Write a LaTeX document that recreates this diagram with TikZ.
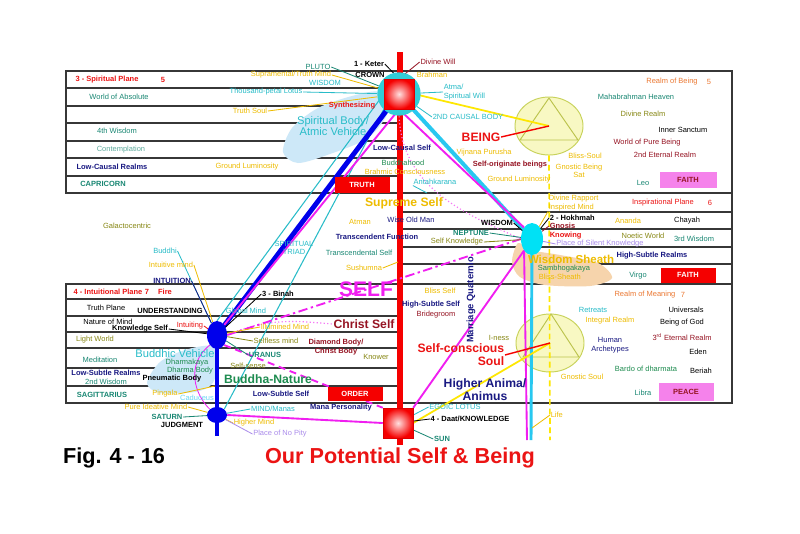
\documentclass[tikz,border=0pt]{standalone}
\usepackage{fontspec}
\setmainfont{Liberation Sans}
\usepackage{xcolor}
\usepackage{tikz}
\usetikzlibrary{shapes.geometric}
\definecolor{ylwtx}{RGB}{238,188,0}
\definecolor{tealtx}{RGB}{25,135,115}
\definecolor{cyantx}{RGB}{40,188,200}
\definecolor{navytx}{RGB}{25,25,130}
\definecolor{dredtx}{RGB}{150,20,35}
\definecolor{redtx}{RGB}{235,20,20}
\definecolor{olivetx}{RGB}{135,135,20}
\definecolor{orangetx}{RGB}{235,120,50}
\definecolor{lavtx}{RGB}{170,140,235}
\definecolor{greentx}{RGB}{30,140,80}
\definecolor{magline}{RGB}{240,30,240}
\definecolor{pinkbox}{RGB}{245,130,235}
\definecolor{boxred}{RGB}{245,0,0}
\definecolor{blobblue}{RGB}{205,232,248}
\definecolor{peach}{RGB}{246,212,172}
\definecolor{circfill}{RGB}{248,248,195}
\definecolor{circedge}{RGB}{200,210,90}
\definecolor{skyline}{RGB}{40,200,240}
\definecolor{ringcyan}{RGB}{50,205,215}
\definecolor{hokcyan}{RGB}{0,225,245}
\definecolor{ellblue}{RGB}{0,0,235}
\definecolor{rulegray}{RGB}{55,55,55}
\pgfdeclarelayer{back}
\pgfdeclarelayer{wires}
\pgfsetlayers{back,wires,main}

\begin{document}
\begin{tikzpicture}[x=0.3mm, y=-0.3mm,
    lab/.style={font=\fontsize{6.4}{7.2}\selectfont, inner sep=0.5pt},
    labb/.style={font=\fontsize{6.4}{7.2}\selectfont\bfseries, inner sep=0.5pt},
    big/.style={font=\fontsize{10.4}{11.2}\selectfont\bfseries, inner sep=0.5pt},
    veh/.style={font=\fontsize{9.5}{9.8}\selectfont, inner sep=0.5pt},
    figtitle/.style={font=\fontsize{18.5}{20}\selectfont\bfseries, inner sep=0pt},
    rowline/.style={line width=1.3pt, rulegray},
    soulcirc/.style={ellipse, fill=circfill, draw=circedge, line width=0.8pt, minimum width=20.4mm, minimum height=17.4mm, inner sep=0pt},
    tri/.style={draw=circedge!80!olivetx, line width=0.8pt},
    ring/.style={circle, fill=ringcyan, minimum size=13mm, inner sep=0pt},
    sq/.style={rectangle, minimum size=9mm, inner sep=0pt, inner color=red!12, outer color=boxred, draw=red!85!black, line width=0.4pt},
    hok/.style={ellipse, fill=hokcyan, minimum width=6.6mm, minimum height=9.6mm, inner sep=0pt},
    blueell/.style={ellipse, fill=ellblue, inner sep=0pt, minimum width=6mm},
    tagbox/.style={rectangle, inner sep=0pt, minimum width=16.5mm, minimum height=4.6mm, font=\fontsize{6.4}{7}\selectfont\bfseries},
    axisline/.style={line width=4.3pt, boxred},
    bluebar/.style={line width=4.2pt, ellblue},
    bluestem/.style={line width=2.8pt, ellblue},
    cyanbar/.style={line width=3.4pt, skyline},
    magbar/.style={line width=1.6pt, magline},
    cyanwire/.style={line width=0.9pt, cyantx},
    lead/.style={line width=0.7pt},
    yelbar/.style={line width=1.5pt, yellow!90!orange},
    yeldash/.style={line width=1.4pt, yellow!90!orange, dash pattern=on 5pt off 3pt},
    redwire/.style={line width=1.2pt, boxred},
    pinkdot/.style={line width=1pt, magline!60, dash pattern=on 1pt off 2pt},
    dashdot/.style={dash pattern=on 8pt off 3pt on 2pt off 3pt},
    dashmag/.style={dash pattern=on 6pt off 4pt}]
    \useasboundingbox (0,0) rectangle (800,533);

    \begin{pgfonlayer}{back}
    \fill[white] (0,0) rectangle (800,533);
    % planes
    \draw[rowline] (66,71) rectangle (732,193);
    \foreach \y in {88,106,123,141,158,176}
        \draw[rowline] (66,\y) -- (400,\y);
    \draw[rowline] (400,193) -- (732,193) -- (732,283);
    \foreach \y in {212,229,247,264}
        \draw[rowline] (400,\y) -- (732,\y);
    \draw[rowline] (66,284) rectangle (732,403);
    \foreach \y in {299,316,332,348,368,386}
        \draw[rowline] (66,\y) -- (400,\y);
    % vehicles
    \fill[blobblue] plot[smooth cycle] coordinates {(283,152) (292,128) (318,108) (352,96) (380,92) (388,112) (368,138) (330,154) (298,163)};
    \fill[blobblue] plot[smooth cycle] coordinates {(147,383) (160,362) (185,350) (212,346) (219,362) (212,384) (195,392) (160,393)};
    \fill[peach] plot[smooth cycle] coordinates {(512,262) (518,243) (530,250) (560,255) (598,263) (612,278) (590,286) (545,285) (520,277)};
    % souls
    \node[soulcirc] (tribeing) at (549,126) {};
    \draw[tri] (549,98) -- (520,140) -- (578,140) -- cycle;
    \node[soulcirc] (trisoul) at (550,343) {};
    \draw[tri] (551,314) -- (523,357) -- (579,357) -- cycle;
    \end{pgfonlayer}

    % sephiroth
    \node[ring] (crownring) at (399,94) {};
    \node[sq] (keter) at (399,94) {};
    \node[sq] (daat) at (398,423) {};
    \node[hok] (hokhmah) at (532,239) {};
    \node[blueell, minimum height=8.4mm] (binah) at (217,335) {};
    \node[blueell, minimum height=4.8mm] (judg) at (217,415) {};
    \coordinate (axtop) at (400,52);
    \coordinate (axbot) at (400,445);
    \coordinate (bluebot) at (217,436);
    \coordinate (hokbot) at (531,440);
    \coordinate (magbot) at (527,440);
    \coordinate (yelbot) at (550,440);

    % boxes
    \node[tagbox, fill=boxred, text=white, minimum height=4.8mm] (truth) at (362,185) {TRUTH};
    \node[tagbox, fill=pinkbox, text=dredtx, minimum width=17.1mm, minimum height=4.8mm] (faithup) at (688,180) {FAITH};
    \node[tagbox, fill=boxred, text=white, minimum height=4.5mm] (faithmid) at (688,275) {FAITH};
    \node[tagbox, fill=boxred, text=white, minimum height=4.2mm] (order) at (355,394) {ORDER};
    \node[tagbox, fill=pinkbox, text=dredtx, minimum height=5.4mm] (peace) at (686,392) {PEACE};

    % spiritual plane
    \node[labb, text=redtx] (spplane) at (107,80) {3 - Spiritual Plane};
    \node[labb, text=redtx] (spnum) at (163,80) {5};
    \node[lab, text=tealtx] (absolute) at (119,97) {World of Absolute};
    \node[lab, text=tealtx] (wisdom4) at (117,131) {4th Wisdom};
    \node[lab, text=tealtx!70] (contempl) at (121,150) {Contemplation};
    \node[labb, text=navytx] (lowcausal) at (112,167) {Low-Causal Realms};
    \node[labb, text=tealtx] (capricorn) at (103,184) {CAPRICORN};
    \node[lab, text=ylwtx] (supmind) at (291,75) {Supramental/Truth Mind};
    \node[lab, text=cyantx] (lotus) at (266,92) {Thousand-petal Lotus};
    \node[lab, text=ylwtx] (truthsoul) at (250,111) {Truth Soul};
    \node[lab, text=ylwtx] (groundl) at (247,167) {Ground Luminosity};
    \node[lab, text=tealtx] (pluto) at (318,67) {PLUTO};
    \node[lab, text=cyantx] (wisdomc) at (325,83) {WISDOM};
    \node[labb] (crownlbl) at (370,75) {CROWN};
    \node[labb] (keterlbl) at (369,64) {1 - Keter};
    \node[lab, text=dredtx] (divwill) at (438,62) {Divine Will};
    \node[lab, text=ylwtx] (brahman) at (432,75) {Brahman};
    \node[lab, text=cyantx, align=left, anchor=west] (atma) at (443,92) {Atma/\\Spiritual Will};
    \node[labb, text=redtx] (synth) at (352,106) {Synthesizing};
    \node[veh, text=cyantx, align=center] (atmic) at (333,126) {Spiritual Body/\\Atmic Vehicle};
    \node[lab, text=cyantx] (causal) at (468,117) {2ND CAUSAL BODY};
    \node[big, text=redtx] (being) at (481,137) {BEING};
    \node[labb, text=navytx] (lcself) at (402,148) {Low-Causal Self};
    \node[lab, text=greentx] (buddhahood) at (403,163) {Buddhahood};
    \node[lab, text=ylwtx] (brahmic) at (405,172) {Brahmic Consciousness};
    \node[lab, text=cyantx] (antah) at (435,182) {Antahkarana};
    \node[lab, text=ylwtx] (vijnana) at (484,153) {Vijnana Purusha};
    \node[labb, text=dredtx] (selforig) at (510,165) {Self-originate beings};
    \node[lab, text=ylwtx] (groundr) at (519,180) {Ground Luminosity};
    \node[lab, text=ylwtx] (blisssoul) at (585,156) {Bliss-Soul};
    \node[lab, text=ylwtx, align=center] (gnbeing) at (579,171) {Gnostic Being\\Sat};
    \node[lab, text=orangetx] (realmbeing) at (672,82) {Realm of Being};
    \node[lab, text=orangetx] (rbnum) at (709,82) {5};
    \node[lab, text=tealtx] (mahab) at (636,97) {Mahabrahman Heaven};
    \node[lab, text=olivetx] (divrealm) at (643,114) {Divine Realm};
    \node[lab] (sanctum) at (683,130) {Inner Sanctum};
    \node[lab, text=dredtx] (purebeing) at (647,143) {World of Pure Being};
    \node[lab, text=dredtx] (eternal2) at (665,155) {2nd Eternal Realm};
    \node[lab, text=tealtx] (leo) at (643,183) {Leo};

    % inspirational plane
    \node[lab, text=olivetx] (galacto) at (127,226) {Galactocentric};
    \node[lab, text=cyantx] (buddhi) at (165,251) {Buddhi};
    \node[lab, text=ylwtx] (intumind) at (171,265) {Intuitive mind};
    \node[labb, text=navytx] (intuition) at (172,281) {INTUITION};
    \node[lab, text=cyantx, align=center] (triad) at (294,248) {SPIRITUAL\\TRIAD};
    \node[big, text=ylwtx] (supreme) at (404,203) {Supreme Self};
    \node[lab, text=ylwtx] (atman) at (360,222) {Atman};
    \node[lab, text=navytx] (oldman) at (411,220) {Wise Old Man};
    \node[labb] (wisdomr) at (497,223) {WISDOM};
    \node[labb, text=navytx] (transfn) at (377,237) {Transcendent Function};
    \node[labb, text=tealtx] (neptune) at (471,233) {NEPTUNE};
    \node[lab, text=olivetx] (selfknow) at (457,242) {Self Knowledge};
    \node[lab, text=tealtx] (transself) at (359,253) {Transcendental Self};
    \node[lab, text=ylwtx] (sush) at (364,268) {Sushumna};
    \node[lab, text=ylwtx, align=left, anchor=west] (rapport) at (548,203) {Divine Rapport\\Inspired Mind};
    \node[lab, text=redtx] (inspplane) at (663,203) {Inspirational Plane};
    \node[lab, text=redtx] (ipnum) at (710,203) {6};
    \node[labb, anchor=west] (hoklbl) at (549,218) {2 - Hokhmah};
    \node[labb, text=dredtx, anchor=west] (gnosis) at (549,226) {Gnosis};
    \node[labb, text=redtx, anchor=west] (knowing) at (549,236) {Knowing};
    \node[lab, text=lavtx] (silent) at (600,244) {Place of Silent Knowledge};
    \node[lab, text=ylwtx] (ananda) at (628,221) {Ananda};
    \node[lab] (chayah) at (687,221) {Chayah};
    \node[lab, text=olivetx] (noetic) at (643,236) {Noetic World};
    \node[lab, text=tealtx] (wisdom3) at (694,239) {3rd Wisdom};
    \node[labb, text=navytx] (hsrealms) at (652,256) {High-Subtle Realms};
    \node[veh, font=\fontsize{9.8}{10}\selectfont\bfseries, text=ylwtx] (sheath) at (571,259) {Wisdom Sheath};
    \node[lab, text=greentx] (sambhoga) at (564,269) {Sambhogakaya};
    \node[lab, text=ylwtx, anchor=west] (blissheath) at (538,277) {Bliss-Sheath};
    \node[lab, text=tealtx] (virgo) at (638,276) {Virgo};

    % intuitional plane
    \node[labb, text=redtx] (intplane) at (108,292) {4 - Intuitional Plane};
    \node[labb, text=redtx] (itnum) at (147,292) {7};
    \node[labb, text=redtx] (fire) at (165,292) {Fire};
    \node[lab] (truthplane) at (106,308) {Truth Plane};
    \node[labb] (understand) at (170,311) {UNDERSTANDING};
    \node[lab, text=cyantx] (globalmind) at (246,311) {Global Mind};
    \node[labb] (binahlbl) at (278,294) {3 - Binah};
    \node[lab] (natmind) at (108,322) {Nature of Mind};
    \node[labb] (knowself) at (140,329) {Knowledge Self};
    \node[lab, text=redtx] (intuiting) at (190,326) {Intuiting};
    \node[lab, text=ylwtx] (illumined) at (285,327) {Illumined Mind};
    \node[lab, text=olivetx] (lightw) at (95,340) {Light World};
    \node[lab, text=olivetx] (selfless) at (276,341) {Selfless mind};
    \node[labb, text=tealtx] (uranus) at (265,355) {URANUS};
    \node[lab, text=olivetx] (selfsense) at (248,366) {Self-sense};
    \node[veh, text=cyantx] (buddhic) at (175,354) {Buddhic Vehicle};
    \node[lab, text=tealtx] (medit) at (100,360) {Meditation};
    \node[lab, text=greentx] (dharmak) at (187,363) {Dharmakaya};
    \node[lab, text=greentx] (dharmab) at (190,371) {Dharma Body};
    \node[labb, text=navytx] (lsrealms) at (106,373) {Low-Subtle Realms};
    \node[lab, text=tealtx] (wisdom2) at (106,382) {2nd Wisdom};
    \node[labb] (pneuma) at (172,379) {Pneumatic Body};
    \node[big, text=greentx] (bnature) at (268,379) {Buddha-Nature};
    \node[labb, text=tealtx] (sagit) at (102,395) {SAGITTARIUS};
    \node[lab, text=ylwtx] (pingala) at (165,394) {Pingala};
    \node[lab, text=skyline!70] (caduc) at (197,398) {Caduceus};
    \node[labb, text=navytx] (lsself) at (281,394) {Low-Subtle Self};
    \node[lab, text=ylwtx] (pureid) at (156,407) {Pure Ideative Mind};
    \node[labb, text=tealtx] (saturn) at (167,417) {SATURN};
    \node[labb] (judgment) at (182,425) {JUDGMENT};
    \node[lab, text=cyantx] (manas) at (273,409) {MIND/Manas};
    \node[lab, text=ylwtx] (highmind) at (254,423) {Higher Mind};
    \node[lab, text=lavtx] (nopity) at (280,434) {Place of No Pity};
    \node[labb, text=navytx] (manap) at (341,408) {Mana Personality};

    % self and soul
    \node[font=\fontsize{18}{19}\selectfont\bfseries, text=magline, inner sep=0pt] (selfbig) at (366,289) {SELF};
    \node[lab, text=ylwtx] (blissself) at (440,291) {Bliss Self};
    \node[labb, text=navytx] (hsself) at (431,305) {High-Subtle Self};
    \node[lab, text=dredtx] (bride) at (436,315) {Bridegroom};
    \node[big, text=dredtx] (christself) at (364,324) {Christ Self};
    \node[labb, text=dredtx, align=center] (diamond) at (336,347) {Diamond Body/\\Christ Body};
    \node[lab, text=olivetx] (knower) at (376,357) {Knower};
    \node[font=\fontsize{8}{9}\selectfont\bfseries, text=navytx, inner sep=0pt, rotate=90] (quat) at (471,300) {Marriage Quaternio};
    \node[lab, text=olivetx] (iness) at (499,338) {I-ness};
    \node[big, text=redtx, align=right, anchor=east] (selfcon) at (505,355) {Self-conscious\\Soul};
    \node[big, text=navytx, align=center] (anima) at (485,390) {Higher Anima/\\Animus};
    \node[lab, text=cyantx] (egoic) at (455,407) {EGOIC LOTUS};
    \node[labb] (daatlbl) at (470,419) {4 - Daat/KNOWLEDGE};
    \node[labb, text=tealtx] (sun) at (442,439) {SUN};
    \node[lab, text=orangetx] (realmmean) at (645,295) {Realm of Meaning};
    \node[lab, text=orangetx] (rmnum) at (683,295) {7};
    \node[lab, text=cyantx] (retreats) at (593,310) {Retreats};
    \node[lab, text=ylwtx] (integral) at (610,321) {Integral Realm};
    \node[lab] (universals) at (686,310) {Universals};
    \node[lab] (beinggod) at (682,323) {Being of God};
    \node[lab, text=dredtx] (eternal3) at (682,337) {3\textsuperscript{rd} Eternal Realm};
    \node[lab, text=navytx, align=center] (archetypes) at (610,345) {Human\\Archetypes};
    \node[lab] (eden) at (698,352) {Eden};
    \node[lab, text=greentx] (bardo) at (646,369) {Bardo of dharmata};
    \node[lab] (beriah) at (701,371) {Beriah};
    \node[lab, text=ylwtx] (gnsoul) at (582,377) {Gnostic Soul};
    \node[lab, text=tealtx] (libra) at (643,393) {Libra};
    \node[lab, text=ylwtx, anchor=west] (life) at (550,415) {Life};

    \node[figtitle] (fig) at (114,458) {Fig. 4 - 16};
    \node[figtitle, text=redtx] (caption) at (400,458) {Our Potential Self \& Being};

    \coordinate (antahend) at (427,193);
    \coordinate (sushend) at (398,262);
    \coordinate (pingend) at (215,386);
    \coordinate (lifeend) at (532,428);

    \begin{pgfonlayer}{wires}
    % tree of life
    \draw[axisline] (axtop) -- (axbot);
    \draw[pinkdot] (keter.south) .. controls (398,190) and (470,215) .. (hokhmah.west);
    \draw[pinkdot] (binah.east) .. controls (270,316) and (305,322) .. (christself.west);
    \draw[cyanwire] (keter.west) -- (binah.north);
    \draw[cyanwire] (keter.south west) -- (judg.north east);
    \draw[bluebar] (keter.center) -- (binah.center);
    \draw[magbar] (keter.south) -- (binah.north east);
    \draw[bluestem] (binah.center) -- (judg.center) -- (bluebot);
    \draw[cyanbar] (keter.center) -- (hokhmah.center);
    \draw[magbar] (keter.south) -- (hokhmah.north west);
    \draw[magbar] (hokhmah.south west) -- (magbot);
    \draw[cyanbar, line width=2.5pt] (hokhmah.center) -- (hokbot);
    \draw[magbar] (hokhmah.south west) -- (daat.north east);
    \draw[magbar] (judg.east) -- (daat.west);
    \draw[magbar, dashdot] (binah.east) -- (hokhmah.west);
    \draw[magbar, dashmag] (binah.south east) -- (daat.north west);
    \draw[lead, magline] (binah.south west) .. controls (185,365) and (195,395) .. (judg.north west);
    \draw[yelbar] (keter.east) -- (tribeing.center);
    \draw[yelbar] (daat.east) -- (trisoul.center);
    \draw[yeldash] (tribeing.south) -- (yelbot);
    \draw[redwire] (being.east) -- (tribeing.center);
    \draw[redwire] (selfcon.east) -- (trisoul.center);
    % crown leaders
    \draw[lead, tealtx] (pluto.east) -- (crownring);
    \draw[lead, ylwtx] (supmind.east) -- (crownring);
    \draw[lead, cyantx] (lotus.east) -- (crownring);
    \draw[lead, ylwtx] (truthsoul.east) -- (crownring);
    \draw[lead, black] (keterlbl.east) -- (keter.north);
    \draw[lead, dredtx] (divwill.west) -- (keter.north);
    \draw[lead, cyantx] (atma.west) -- (crownring);
    \draw[lead, cyantx] (causal.west) -- (crownring);
    \draw[lead, cyantx] (antah.south west) -- (antahend);
    % binah and judgment leaders
    \draw[lead, cyantx] (buddhi.east) -- (binah);
    \draw[lead, ylwtx] (intumind.east) -- (binah);
    \draw[lead, navytx] (intuition.east) -- (binah);
    \draw[lead, black] (binahlbl.west) -- (binah);
    \draw[lead, black] (knowself.east) -- (binah);
    \draw[lead, redtx] (intuiting.east) -- (binah);
    \draw[lead, ylwtx] (illumined.west) -- (binah);
    \draw[lead, olivetx] (selfless.west) -- (binah);
    \draw[lead, tealtx] (uranus.west) -- (binah);
    \draw[lead, ylwtx] (pingala.east) -- (pingend);
    \draw[lead, ylwtx] (pureid.east) -- (judg);
    \draw[lead, tealtx] (saturn.east) -- (judg);
    \draw[lead, cyantx] (manas.west) -- (judg);
    \draw[lead, ylwtx] (highmind.west) -- (judg);
    \draw[lead, lavtx] (nopity.west) -- (judg);
    % hokhmah leaders
    \draw[lead, black] (wisdomr.east) -- (hokhmah);
    \draw[lead, tealtx] (neptune.east) -- (hokhmah);
    \draw[lead, olivetx] (selfknow.east) -- (hokhmah);
    \draw[lead, ylwtx] (rapport.south west) -- (hokhmah);
    \draw[lead, black] (hoklbl.west) -- (hokhmah);
    \draw[lead, dredtx] (gnosis.west) -- (hokhmah);
    \draw[lead, lavtx] (silent.west) -- (hokhmah);
    \draw[lead, ylwtx] (sush.east) -- (sushend);
    % daat leaders
    \draw[lead, black] (daatlbl.west) -- (daat);
    \draw[lead, tealtx] (sun.west) -- (daat);
    \draw[lead, cyantx] (egoic.west) -- (daat);
    \draw[lead, ylwtx] (life.west) -- (lifeend);
    \end{pgfonlayer}
\end{tikzpicture}
\end{document}
